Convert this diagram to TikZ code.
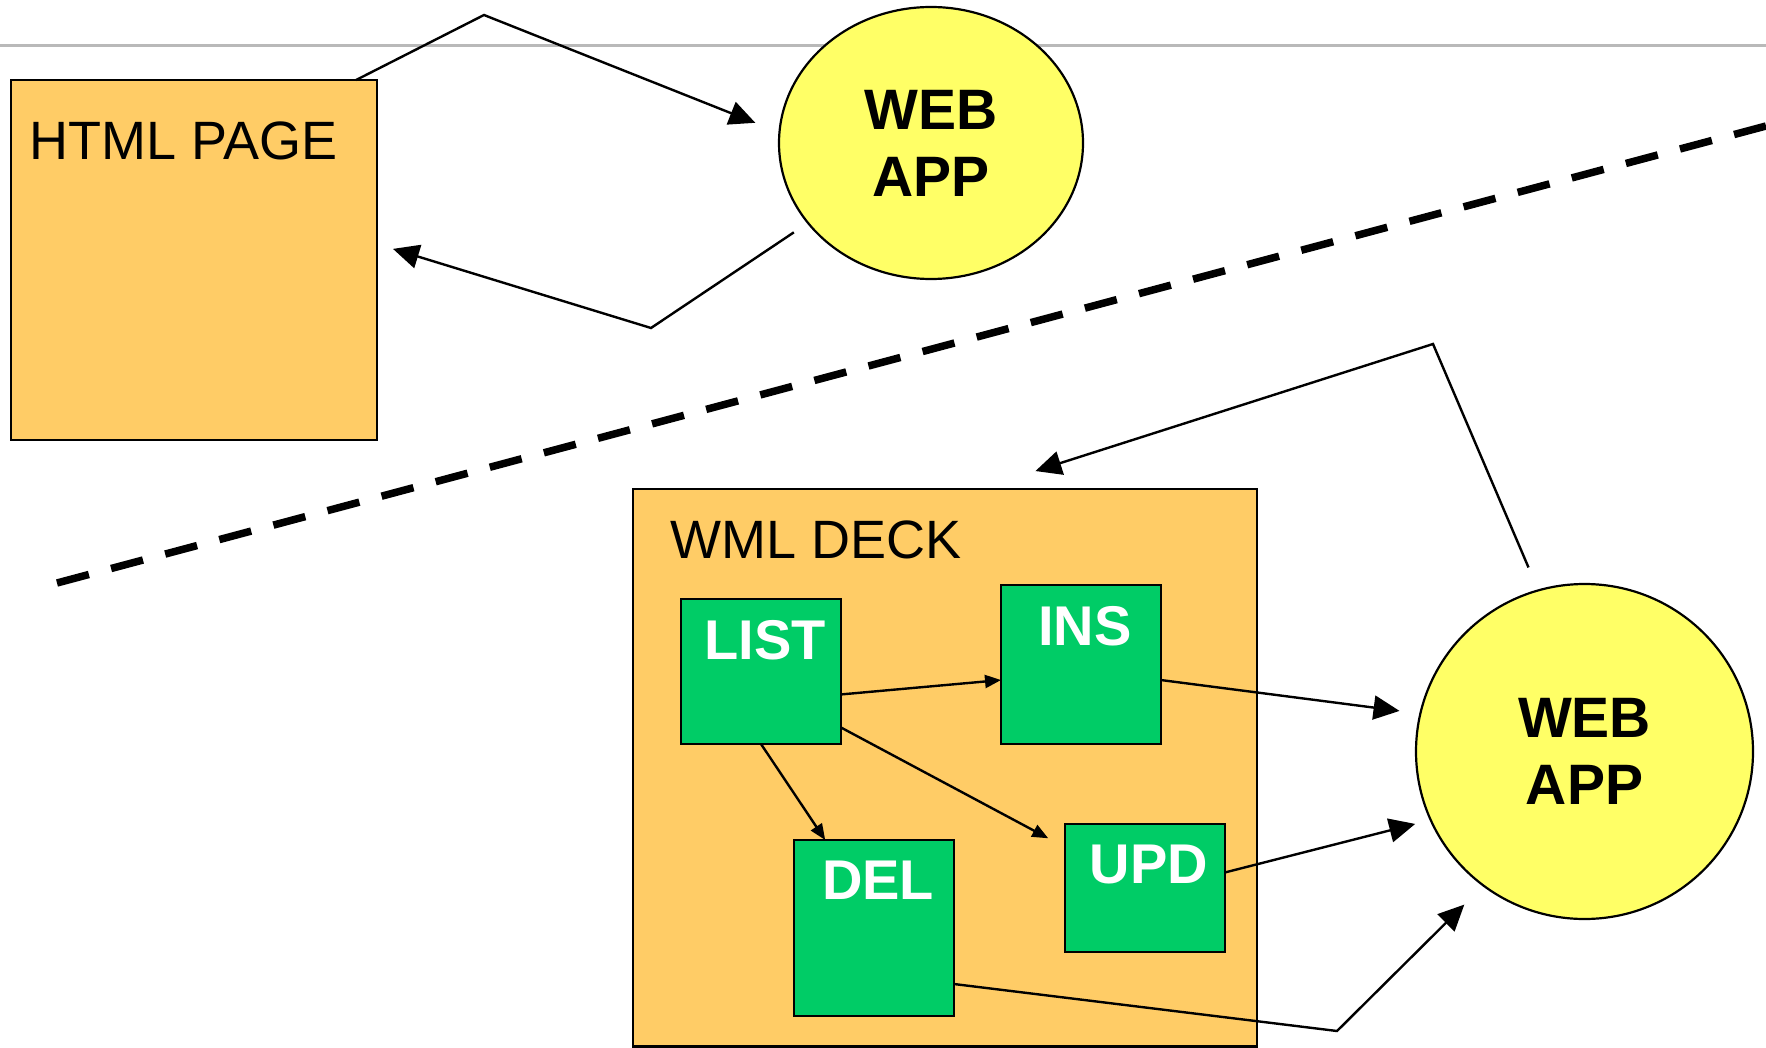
\documentclass[tikz,border=0pt]{standalone}
\usepackage{fontspec}
\setmainfont{Liberation Sans}
\usepackage{tikz}
\usetikzlibrary{arrows.meta}
\usetikzlibrary{shapes.geometric}
\usetikzlibrary{positioning}
\definecolor{morange}{RGB}{255,204,102}
\definecolor{mgreen}{RGB}{0,204,102}
\definecolor{myellow}{RGB}{255,255,102}
\definecolor{mgray}{RGB}{185,185,185}
\newcommand{\titlefont}{\fontsize{54}{60}\selectfont}
\newcommand{\appfont}{\fontsize{57}{67}\selectfont\bfseries}
\newcommand{\cardfont}{\fontsize{56}{60}\selectfont\bfseries}
\tikzset{
    page/.style={draw, line width=2.2pt, fill=morange, inner sep=0pt, outer sep=0pt},
    pagename/.style={anchor=north west, inner sep=0pt, font=\titlefont},
    card/.style={draw, line width=2.2pt, fill=mgreen, minimum width=160pt, inner sep=0pt, outer sep=0pt},
    cardname/.style={anchor=north, inner sep=0pt, xshift=4pt, yshift=-21pt, font=\cardfont, text=white},
    app/.style={ellipse, draw, line width=2.2pt, fill=myellow, inner sep=0pt, outer sep=0pt, align=center, font=\appfont},
    link/.style={line width=2.4pt, -{Triangle[length=26pt, width=24pt]}},
    sublink/.style={line width=2.4pt, -{Triangle[length=16pt, width=13pt]}}
}

\begin{document}
\begin{tikzpicture}[x=1pt, y=-1pt]
    \useasboundingbox (0,0) rectangle (1766,1048);
    \draw [mgray, line width=2.4pt] (0,45.5) -- (1766,45.5);
    \draw [line width=7.5pt, dash pattern=on 33pt off 23pt] (57,583) -- (1766,126); % border line

    \node [page, minimum width=366pt, minimum height=360pt] (html) at (194,260) {};
    \node [pagename] (htmlname) at ([xshift=18pt, yshift=-42pt]html.north west) {HTML PAGE};
    \node [app, minimum width=304pt, minimum height=272pt] (web1) at (931,143) {WEB\\APP};

    \node [page, minimum width=624pt, minimum height=557.5pt] (wml) at (945,767.75) {};
    \node [pagename] (wmlname) at ([xshift=37pt, yshift=-31.5pt]wml.north west) {WML DECK};
    \node [card, minimum height=145pt, label={[cardname]north:LIST}] (list) at (761,671.5) {};
    \node [card, minimum height=159pt, label={[cardname]north:INS}] (ins) at (1081,664.5) {};
    \node [card, minimum height=176pt, label={[cardname]north:DEL}] (del) at (874,928) {};
    \node [card, minimum height=128pt, label={[cardname]north:UPD}] (upd) at (1145,888) {};
    \node [app, minimum width=337pt, minimum height=335pt] (web2) at (1584.5,751.5) {WEB\\APP};

    \coordinate (up) at (484,15);
    \coordinate (down) at (651,328);
    \coordinate (back) at (1433,344);
    \coordinate (low) at (1337,1031);

    \draw [link, shorten >=26pt] (html.48) -- (up) -- (web1.176.6);
    \draw [link, shorten <=17pt, shorten >=16.7pt] (web1.213.6) -- (down) -- (html.5);

    \draw [sublink] (list.-16.4) -- (ins.191.6);
    \draw [sublink, shorten >=19pt] (list.-35.2) -- (upd.153.4);
    \draw [sublink] (list.south) -- (del.119.6);

    \draw [link, shorten >=21pt] (ins.-11) -- (web2.167.1);
    \draw [link, shorten >=16pt] (upd.11.3) -- (web2.204.5);
    \draw [link, shorten >=27pt] (del.-35) -- (low) -- (web2.233.1);
    \draw [link, shorten <=25pt, shorten >=59pt] (web2.106.3) -- (back) -- (wml.83.3);
\end{tikzpicture}
\end{document}
